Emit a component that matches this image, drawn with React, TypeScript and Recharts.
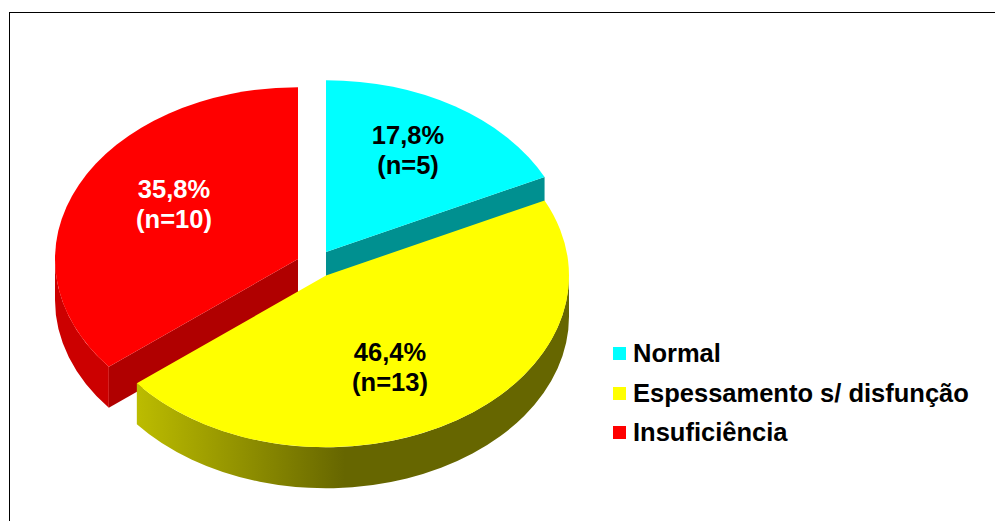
import React from 'react';
import { PieChart, Pie, Legend } from 'recharts';

const categories = ['Normal', 'Espessamento s/ disfunção', 'Insuficiência'];
const percentages = [17.8, 46.4, 35.8];
const counts = [5, 13, 10];
const percentLabels = ['17,8%', '46,4%', '35,8%'];
const countLabels = ['(n=5)', '(n=13)', '(n=10)'];

const topColors = ['#00ffff', '#ffff00', '#ff0000'];
const cutColors = ['#009090', '#666600', '#b00000'];
const rimColors = ['#009090', 'url(#yellowRim)', '#cc0000'];
const labelColors = ['#000', '#000', '#fff'];

const pieData = categories.map((name, i) => ({
  name,
  value: percentages[i],
  count: counts[i],
  fill: topColors[i],
}));

// pie geometry: circle in data space, squashed to an ellipse when drawn
const CX = 326;
const CY = 252;
const RADIUS = 243;
const TILT = 0.707;
const DEPTH = 41;
const explode = [
  { x: 0, y: 0 },
  { x: 0, y: 23.5 },
  { x: -28, y: 7 },
];
const labelOffsets = [
  { x: 82, y: -100 },
  { x: 64, y: 117 },
  { x: -152, y: -46 },
];

const FONT = '"Liberation Sans", Arial, sans-serif';

const PieSlice = (props: any) => {
  const { cx, cy, outerRadius, startAngle, endAngle, index } = props;
  const i = index as number;
  const ox = cx + explode[i].x;
  const oy = cy + explode[i].y;
  const rx = outerRadius;
  const ry = outerRadius * TILT;

  // recharts angles are counter-clockwise from 3 o'clock
  const pt = (deg: number, drop = 0) => {
    const a = (deg * Math.PI) / 180;
    return `${ox + rx * Math.cos(a)} ${oy - ry * Math.sin(a) + drop}`;
  };
  const arcFlag = Math.abs(startAngle - endAngle) > 180 ? 1 : 0;
  const top = `M${ox} ${oy} L${pt(startAngle)} A${rx} ${ry} 0 ${arcFlag} 1 ${pt(endAngle)} Z`;

  // the rim only shows on the front half of the ellipse (0 to -180)
  const rimStart = Math.min(startAngle, 0);
  const rimEnd = Math.max(endAngle, -180);
  const rim =
    rimStart > rimEnd
      ? `M${pt(rimStart)} A${rx} ${ry} 0 0 1 ${pt(rimEnd)} L${pt(rimEnd, DEPTH)} A${rx} ${ry} 0 0 0 ${pt(rimStart, DEPTH)} Z`
      : null;

  // cut faces that look towards the viewer
  const cutAngle = i === 0 ? endAngle : i === 2 ? startAngle : null;
  const cut =
    cutAngle === null
      ? null
      : `M${ox} ${oy} L${pt(cutAngle)} L${pt(cutAngle, DEPTH)} L${ox} ${oy + DEPTH} Z`;

  return (
    <g>
      {cut && <path d={cut} fill={cutColors[i]} />}
      {rim && <path d={rim} fill={rimColors[i]} />}
      <path d={top} fill={topColors[i]} />
    </g>
  );
};

// yellow slice sits in front, so it goes in its own layer above the other two
const backSlice = (props: any) => (props.index === 1 ? <g /> : <PieSlice {...props} />);
const frontSlice = (props: any) => (props.index === 1 ? <PieSlice {...props} /> : <g />);

const renderLabel = (props: any) => {
  const { cx, cy, index } = props;
  const x = cx + labelOffsets[index].x;
  const y = cy + labelOffsets[index].y;
  return (
    <text
      x={x}
      y={y}
      textAnchor="middle"
      fontFamily={FONT}
      fontWeight="bold"
      fontSize={25.5}
      fill={labelColors[index]}
    >
      <tspan x={x} dy={-8}>{percentLabels[index]}</tspan>
      <tspan x={x} dy={29.5}>{countLabels[index]}</tspan>
    </text>
  );
};

const renderLegend = () => (
  <div style={{ fontFamily: FONT, fontWeight: 'bold', fontSize: 25.5, color: '#000' }}>
    {categories.map((name, i) => (
      <div key={name} style={{ display: 'flex', alignItems: 'center', height: 39.5, whiteSpace: 'nowrap' }}>
        <span style={{ width: 13, height: 13, flexShrink: 0, background: topColors[i], marginRight: 7 }} />
        {name}
      </div>
    ))}
  </div>
);

export default function App() {
  return (
    <div
      style={{
        position: 'absolute',
        left: 0,
        top: 0,
        width: 995,
        height: 521,
        background: '#fff',
        overflow: 'hidden',
      }}
    >
      <div
        style={{
          position: 'absolute',
          left: 9,
          top: 12,
          right: 0,
          bottom: 0,
          borderTop: '1px solid #000',
          borderLeft: '1px solid #000',
        }}
      />
      <PieChart
        width={995}
        height={521}
        margin={{ top: 0, right: 0, bottom: 0, left: 0 }}
        style={{ position: 'absolute', left: 0, top: 0 }}
      >
        <defs>
          <linearGradient id="yellowRim" gradientUnits="userSpaceOnUse" x1={137} y1={0} x2={345} y2={0}>
            <stop offset="0%" stopColor="#bcbc00" />
            <stop offset="100%" stopColor="#666600" />
          </linearGradient>
        </defs>
        <Pie
          data={pieData}
          dataKey="value"
          nameKey="name"
          cx={CX}
          cy={CY}
          outerRadius={RADIUS}
          startAngle={90}
          endAngle={-270}
          stroke="none"
          legendType="none"
          shape={backSlice}
          isAnimationActive={false}
        />
        <Pie
          data={pieData}
          dataKey="value"
          nameKey="name"
          cx={CX}
          cy={CY}
          outerRadius={RADIUS}
          startAngle={90}
          endAngle={-270}
          stroke="none"
          shape={frontSlice}
          label={renderLabel}
          labelLine={false}
          isAnimationActive={false}
        />
        <Legend
          content={renderLegend}
          layout="vertical"
          align="right"
          verticalAlign="top"
          wrapperStyle={{ left: 613, right: 'auto', top: 334, width: 380 }}
        />
      </PieChart>
    </div>
  );
}
